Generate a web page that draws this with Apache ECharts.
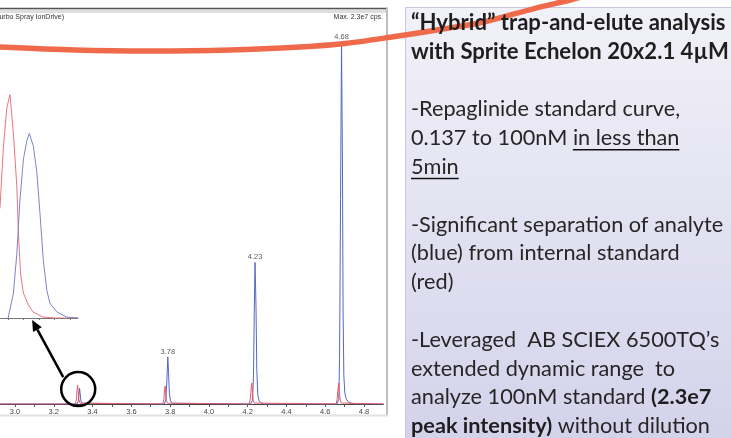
<!DOCTYPE html>
<html>
<head>
<meta charset="utf-8">
<script src="https://cdn.jsdelivr.net/npm/echarts@6/dist/echarts.min.js"></script>
<style>
html, body { margin: 0; padding: 0; background: #fff; }
#chart { width: 731px; height: 438px; }
</style>
</head>
<body>
<div id="chart"></div>
<script>
// retention time (min), intensity (cps)
const analyteTrace = [
  [2.90, 0], [3.320, 0], [3.326, 0.15e6], [3.330, 0.6e6], [3.333, 1.0e6], [3.336, 0.65e6], [3.340, 0.2e6], [3.346, 0.05e6], [3.355, 0],
  [3.770, 0], [3.778, 0.25e6], [3.783, 1.4e6], [3.788, 3.0e6], [3.792, 2.0e6], [3.796, 0.7e6], [3.802, 0.2e6], [3.812, 0.05e6], [3.822, 0],
  [4.215, 0], [4.225, 0.25e6], [4.230, 1.8e6], [4.234, 5.8e6], [4.238, 9.0e6], [4.243, 6.2e6], [4.247, 2.2e6], [4.252, 0.6e6], [4.259, 0.2e6], [4.270, 0.06e6], [4.282, 0],
  [4.660, 0], [4.670, 0.3e6], [4.674, 3.0e6], [4.679, 1.3e7], [4.684, 2.3e7], [4.689, 1.5e7], [4.692, 6.0e6], [4.696, 1.8e6], [4.701, 0.7e6], [4.709, 0.3e6], [4.720, 0.12e6], [4.738, 0.04e6], [4.750, 0],
  [4.90, 0],
];
const istdTrace = [
  [2.90, 0], [3.312, 0], [3.317, 0.3e6], [3.320, 0.9e6], [3.323, 1.2e6], [3.326, 0.8e6], [3.330, 0.25e6], [3.336, 0.05e6], [3.345, 0],
  [3.762, 0], [3.768, 0.3e6], [3.771, 0.9e6], [3.774, 1.14e6], [3.777, 0.7e6], [3.781, 0.2e6], [3.787, 0.05e6], [3.795, 0],
  [4.208, 0], [4.214, 0.35e6], [4.218, 1.0e6], [4.221, 1.33e6], [4.224, 0.8e6], [4.228, 0.25e6], [4.234, 0.06e6], [4.242, 0],
  [4.656, 0], [4.662, 0.35e6], [4.666, 1.0e6], [4.670, 1.33e6], [4.673, 0.8e6], [4.677, 0.25e6], [4.683, 0.06e6], [4.691, 0],
  [4.90, 0],
];
const peakLabels = ["3.78", "4.23", "4.68"];
const timeTicks = [3.0, 3.1, 3.2, 3.3, 3.4, 3.5, 3.6, 3.7, 3.8, 3.9, 4.0, 4.1, 4.2, 4.3, 4.4, 4.5, 4.6, 4.7, 4.8];
const timeLabels = [3.0, 3.2, 3.4, 3.6, 3.8, 4.0, 4.2, 4.4, 4.6, 4.8];

// zoomed view of the first injection: time (s), intensity (cps)
const insetIstd = [
  [198.10, 0.15e6], [198.42, 0.37e6], [198.75, 0.60e6], [198.86, 0.93e6], [198.97, 1.14e6], [199.07, 1.21e6],
  [199.18, 1.00e6], [199.29, 0.71e6], [199.34, 0.46e6], [199.41, 0.24e6], [199.50, 0.135e6], [199.66, 0.07e6],
  [199.81, 0.033e6], [200.13, 0.005e6], [200.51, 0], [201.25, 0],
];
const insetAnalyte = [
  [199.01, 0], [199.18, 0.135e6], [199.29, 0.35e6], [199.39, 0.64e6], [199.50, 0.86e6], [199.61, 0.96e6],
  [199.69, 1.0e6], [199.82, 0.93e6], [199.93, 0.79e6], [200.03, 0.57e6], [200.14, 0.31e6], [200.25, 0.15e6],
  [200.35, 0.08e6], [200.57, 0.033e6], [200.89, 0.005e6], [201.25, 0],
];
const insetTicks = [199.0, 199.5, 200.0, 200.5, 201.0];

const headerLeft = "(Turbo Spray IonDrive)";
const headerRight = "Max. 2.3e7 cps.";

const noteLines = [
  "{t|\u201cHybrid\u201d trap-and-elute analysis}",
  "{t|with Sprite Echelon 20x2.1 4\u00b5M}",
  "",
  "{n|-Repaglinide standard curve,}",
  "{n|0.137 to 100nM in less than}",
  "{n|5min}",
  "",
  "{n|-Significant separation of analyte}",
  "{n|(blue) from internal standard}",
  "{n|(red)}",
  "",
  "{n|-Leveraged  AB SCIEX 6500TQ\u2019s}",
  "{n|extended dynamic range  to}",
  "{n|analyze 100nM standard }{b|(2.3e7}",
  "{b|peak intensity)}{n| without dilution}",
];
// [line index, text before, underlined text]
const underlines = [[4, "0.137 to 100nM ", "in less than"], [5, "", "5min"]];

const BLUE = "#5468c2";
const RED = "#e85a68";
const NOTE_FONT = "Lato, 'Open Sans', sans-serif";

const measureCtx = document.createElement("canvas").getContext("2d");
function textWidth(str, size, weight) {
  measureCtx.font = `${weight} ${size}px ${NOTE_FONT}`;
  return measureCtx.measureText(str).width;
}
const bodySize = +(20 * 312 / textWidth("-Significant separation of analyte", 20, "normal")).toFixed(1);
const titleSize = +(20 * 314 / textWidth("\u201cHybrid\u201d trap-and-elute analysis", 20, "bold")).toFixed(1);

const chart = echarts.init(document.getElementById("chart"), null, { renderer: "canvas" });

function apexPoints() {
  return peakLabels.map((lab) => {
    const t = parseFloat(lab);
    let best = null;
    analyteTrace.forEach((p) => {
      if (Math.abs(p[0] - t) < 0.02 && (!best || p[1] > best[1])) best = p;
    });
    return { value: best, label: { formatter: lab } };
  });
}

const smallText = { fontFamily: "'Liberation Sans', Arial, sans-serif", fontSize: 7.5, color: "#444" };

// main axis: 193.9 px per minute, 3.0 sits 15px in from the left edge
chart.setOption({
  animation: false,
  backgroundColor: "#fff",
  grid: [
    { left: 0, top: 26.3, width: 383.4, height: 377.7 },
    { left: 0, top: 78, width: 78, height: 240 },
  ],
  xAxis: [
    {
      type: "value",
      gridIndex: 0,
      min: 2.9226,
      max: 4.9,
      axisLine: { lineStyle: { color: "#444", width: 1 } },
      axisTick: { length: 3, customValues: timeTicks, lineStyle: { color: "#555" } },
      axisLabel: {
        ...smallText,
        margin: 4,
        customValues: timeLabels,
        formatter: (v) => v.toFixed(1),
      },
      splitLine: { show: false },
    },
    {
      type: "value",
      gridIndex: 1,
      min: 198.75,
      max: 201.25,
      axisLine: { lineStyle: { color: "#777", width: 1 } },
      axisTick: { length: 2, customValues: insetTicks, lineStyle: { color: "#777" } },
      axisLabel: { show: false },
      splitLine: { show: false },
    },
  ],
  yAxis: [
    { type: "value", gridIndex: 0, min: 0, max: 2.4e7, show: false, splitLine: { show: false } },
    { type: "value", gridIndex: 1, min: 0, max: 1.3e6, show: false, splitLine: { show: false } },
  ],
  series: [
    {
      name: "IS", type: "line", xAxisIndex: 0, yAxisIndex: 0, data: istdTrace,
      showSymbol: false, symbol: "none", lineStyle: { color: RED, width: 1 }, z: 3,
    },
    {
      name: "analyte", type: "line", xAxisIndex: 0, yAxisIndex: 0, data: analyteTrace,
      showSymbol: false, symbol: "none", lineStyle: { color: BLUE, width: 1 }, z: 2,
    },
    {
      name: "peak labels", type: "scatter", xAxisIndex: 0, yAxisIndex: 0, data: apexPoints(),
      symbolSize: 0, silent: true,
      label: { show: true, position: "top", distance: 1, ...smallText, color: "#333" },
    },
    {
      name: "inset IS", type: "line", xAxisIndex: 1, yAxisIndex: 1, data: insetIstd,
      showSymbol: false, symbol: "none", lineStyle: { color: "#ef7480", width: 1 },
    },
    {
      name: "inset analyte", type: "line", xAxisIndex: 1, yAxisIndex: 1, data: insetAnalyte,
      showSymbol: false, symbol: "none", lineStyle: { color: "#7c84ca", width: 1 },
    },
  ],
});

// annotations anchored on the data
const circleC = chart.convertToPixel({ gridIndex: 0 }, [3.326, 0.95e6]);
const arrowTip = chart.convertToPixel({ gridIndex: 1 }, [199.78, -1.1e4]);
const arrowStart = [circleC[0] - 15, circleC[1] - 12];
const dx = arrowTip[0] - arrowStart[0];
const dy = arrowTip[1] - arrowStart[1];
const len = Math.hypot(dx, dy);
const ux = dx / len, uy = dy / len;
const headLen = 11, headW = 5;
const headBase = [arrowTip[0] - ux * headLen, arrowTip[1] - uy * headLen];

const NOTE_X = 411;
const LINE0 = 23;
const LINE_H = 28.8;

const noteText = noteLines.map((txt, i) => ({
  type: "text",
  x: NOTE_X,
  y: LINE0 + i * LINE_H,
  z: 20,
  style: {
    text: txt,
    textVerticalAlign: "middle",
    rich: {
      t: { fontFamily: NOTE_FONT, fontSize: titleSize, fontWeight: "bold", fill: "#1e1e1e" },
      b: { fontFamily: NOTE_FONT, fontSize: bodySize, fontWeight: "bold", fill: "#1e1e1e" },
      n: { fontFamily: NOTE_FONT, fontSize: bodySize, fill: "#262626" },
    },
  },
}));

const noteUnderlines = underlines.map(([i, before, word]) => {
  const x0 = NOTE_X + textWidth(before, bodySize, "normal");
  const x1 = x0 + textWidth(word, bodySize, "normal");
  const y = LINE0 + i * LINE_H + 11.5;
  return { type: "line", z: 21, shape: { x1: x0, y1: y, x2: x1, y2: y }, style: { stroke: "#111", lineWidth: 1.5 } };
});

chart.setOption({
  graphic: [
    // chromatogram window frame
    { type: "rect", z: 10, shape: { x: 0, y: 9.5, width: 387, height: 3.5 }, style: { fill: "#dedede" } },
    { type: "line", z: 11, shape: { x1: 0, y1: 8.5, x2: 388, y2: 8.5 }, style: { stroke: "#555", lineWidth: 1.5 } },
    { type: "line", z: 11, shape: { x1: 387, y1: 8, x2: 387, y2: 416 }, style: { stroke: "#bdbdbd", lineWidth: 2 } },
    { type: "line", z: 11, shape: { x1: 0, y1: 415.5, x2: 388, y2: 415.5 }, style: { stroke: "#e2e2e2", lineWidth: 2 } },
    {
      type: "text", z: 11, x: 64, y: 17,
      style: { text: headerLeft, textAlign: "right", textVerticalAlign: "middle", font: "7px 'Liberation Sans', Arial, sans-serif", fill: "#333" },
    },
    {
      type: "text", z: 11, x: 383, y: 17,
      style: { text: headerRight, textAlign: "right", textVerticalAlign: "middle", font: "7px 'Liberation Sans', Arial, sans-serif", fill: "#333" },
    },
    // note box
    {
      type: "rect", z: 15,
      shape: { x: 405.5, y: 7.5, width: 340, height: 450 },
      style: {
        fill: new echarts.graphic.LinearGradient(0, 0, 0, 1, [
          { offset: 0, color: "#f1f1f8" },
          { offset: 1, color: "#d3d1ea" },
        ]),
        stroke: "#c8c6e2",
        lineWidth: 1,
      },
    },
    ...noteText,
    ...noteUnderlines,
    // callout circle + arrow
    {
      type: "circle", z: 30,
      shape: { cx: circleC[0], cy: circleC[1], r: 17 },
      style: { fill: "none", stroke: "#000", lineWidth: 2.5 },
    },
    {
      type: "line", z: 30,
      shape: { x1: arrowStart[0], y1: arrowStart[1], x2: headBase[0], y2: headBase[1] },
      style: { stroke: "#000", lineWidth: 2.5 },
    },
    {
      type: "polygon", z: 30,
      shape: {
        points: [
          arrowTip,
          [headBase[0] - uy * headW, headBase[1] + ux * headW],
          [headBase[0] + uy * headW, headBase[1] - ux * headW],
        ],
      },
      style: { fill: "#000" },
    },
    // orange sweep across the slide, under the note text
    {
      type: "polyline", z: 17,
      shape: {
        points: [[-10, 46.5], [75, 50], [150, 51], [230, 50], [300, 47], [345, 43.5], [390, 37.3],
                 [440, 29.5], [485, 21.7], [535, 8.3], [570, 0], [585, -4]],
        smooth: 0.3,
      },
      style: { stroke: "#ef6a4b", lineWidth: 5.5, fill: "none", lineCap: "round" },
    },
  ],
});
</script>
</body>
</html>
